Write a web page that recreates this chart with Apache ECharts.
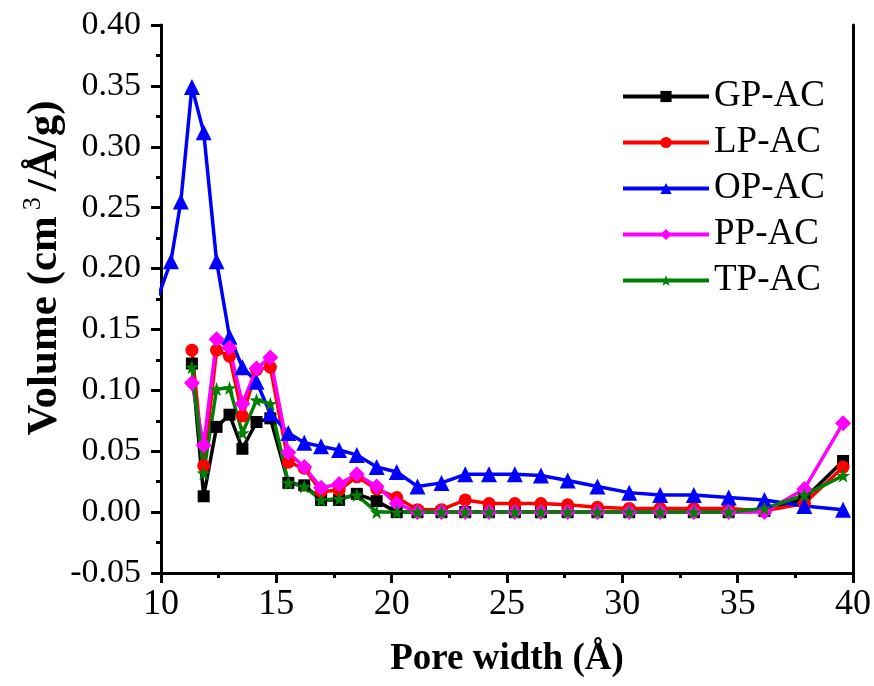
<!DOCTYPE html>
<html>
<head>
<meta charset="utf-8">
<title>Pore size distribution</title>
<script src="https://cdn.jsdelivr.net/npm/echarts@6/dist/echarts.min.js"></script>
<style>
  html, body { margin: 0; padding: 0; background: #fff; }
  #chart { width: 874px; height: 686px; }
</style>
</head>
<body>
<div id="chart"></div>
<script>
// pore width (Å) for OP-AC, which starts earlier than the others
const poreWidthOP = [9.9, 10.43, 10.86, 11.34, 11.85, 12.41, 12.97, 13.53, 14.14, 14.74, 15.52, 16.21, 16.94, 17.72, 18.49, 19.35, 20.22, 21.12, 22.16, 23.19, 24.22, 25.34, 26.47, 27.63, 28.92, 30.30, 31.64, 33.10, 34.61, 36.16, 37.89, 39.57]
// pore width (Å) shared by the other samples
const poreWidth = [11.34, 11.85, 12.41, 12.97, 13.53, 14.14, 14.74, 15.52, 16.21, 16.94, 17.72, 18.49, 19.35, 20.22, 21.12, 22.16, 23.19, 24.22, 25.34, 26.47, 27.63, 28.92, 30.30, 31.64, 33.10, 34.61, 36.16, 37.89, 39.57]

const opAC = [0.178, 0.206, 0.255, 0.349, 0.312, 0.206, 0.144, 0.119, 0.107, 0.081, 0.065, 0.057, 0.054, 0.051, 0.047, 0.037, 0.033, 0.021, 0.024, 0.031, 0.031, 0.031, 0.030, 0.026, 0.021, 0.016, 0.014, 0.014, 0.012, 0.010, 0.005, 0.002]
const gpAC = [0.122, 0.013, 0.070, 0.080, 0.052, 0.074, 0.077, 0.024, 0.022, 0.010, 0.010, 0.015, 0.009, 0.000, 0.000, 0.000, 0.000, 0.000, 0.000, 0.000, 0.000, 0.000, 0.000, 0.000, 0.000, 0.000, 0.001, 0.011, 0.042]
const lpAC = [0.133, 0.038, 0.133, 0.128, 0.079, 0.117, 0.119, 0.041, 0.036, 0.017, 0.018, 0.029, 0.019, 0.012, 0.002, 0.002, 0.010, 0.007, 0.007, 0.007, 0.006, 0.004, 0.003, 0.003, 0.003, 0.003, 0.001, 0.007, 0.037]
const ppAC = [0.106, 0.055, 0.142, 0.135, 0.089, 0.118, 0.127, 0.049, 0.037, 0.020, 0.023, 0.031, 0.021, 0.007, 0.000, 0.000, 0.000, 0.000, 0.000, 0.000, 0.000, 0.000, 0.000, 0.000, 0.000, 0.000, 0.000, 0.019, 0.073]
const tpAC = [0.119, 0.032, 0.101, 0.102, 0.065, 0.092, 0.089, 0.024, 0.021, 0.010, 0.011, 0.014, 0.000, 0.000, 0.000, 0.000, 0.000, 0.000, 0.000, 0.000, 0.000, 0.000, 0.000, 0.000, 0.000, 0.000, 0.003, 0.014, 0.030]

const serif = 'Liberation Serif'
const star = 'path://M0,-10 L2.35,-3.24 9.51,-3.09 3.8,1.24 5.88,8.09 0,4 -5.88,8.09 -3.8,1.24 -9.51,-3.09 -2.35,-3.24 Z'

function pairs(xs, ys) {
  return xs.map((x, i) => [x, ys[i]])
}

function makeSeries(name, xs, ys, color, symbol, size) {
  return {
    name: name,
    type: 'line',
    data: pairs(xs, ys),
    symbol: symbol,
    symbolSize: size,
    showSymbol: true,
    clip: true,
    lineStyle: { color: color, width: 3.5 },
    itemStyle: { color: color },
    emphasis: { disabled: true },
    animation: false
  }
}

const chart = echarts.init(document.getElementById('chart'))
chart.setOption({
  backgroundColor: '#fff',
  textStyle: { fontFamily: serif },
  grid: { left: 161, right: 18, top: 25, bottom: 113 },
  legend: {
    orient: 'vertical',
    left: 616,
    top: 73,
    itemWidth: 86,
    itemHeight: 14,
    itemGap: 9,
    lineStyle: { width: 4 },
    textStyle: { fontFamily: serif, fontSize: 37, color: '#000', lineHeight: 36 },
    data: ['GP-AC', 'LP-AC', 'OP-AC', 'PP-AC', 'TP-AC']
  },
  graphic: [{
    type: 'text',
    x: 45,
    y: 268,
    rotation: Math.PI / 2,
    style: {
      text: 'Volume (cm{sup|3}/Å/g)',
      fontFamily: serif,
      fontSize: 43,
      fontWeight: 'bold',
      fill: '#000',
      align: 'center',
      verticalAlign: 'middle',
      rich: {
        sup: { fontFamily: serif, fontSize: 26, fontWeight: 'normal', lineHeight: 50, verticalAlign: 'top', padding: [0, 6, 0, 6] }
      }
    }
  }],
  xAxis: {
    type: 'value',
    min: 10,
    max: 40,
    interval: 5,
    name: 'Pore width (Å)',
    nameLocation: 'middle',
    nameGap: 68,
    nameTextStyle: { fontFamily: serif, fontSize: 37, fontWeight: 'bold', color: '#000' },
    axisLine: { onZero: false, lineStyle: { color: '#000', width: 3 } },
    axisTick: { inside: false, length: 10, lineStyle: { color: '#000', width: 3 } },
    minorTick: { show: true, splitNumber: 2, length: 5, lineStyle: { color: '#000', width: 3 } },
    axisLabel: { fontFamily: serif, fontSize: 36, color: '#000', margin: 14 },
    splitLine: { show: false }
  },
  yAxis: [{
    type: 'value',
    min: -0.05,
    max: 0.40,
    interval: 0.05,
    axisLine: { show: true, onZero: false, lineStyle: { color: '#000', width: 3 } },
    axisTick: { inside: false, length: 10, lineStyle: { color: '#000', width: 3 } },
    minorTick: { show: true, splitNumber: 2, length: 5, lineStyle: { color: '#000', width: 3 } },
    axisLabel: {
      fontFamily: serif, fontSize: 34, color: '#000', margin: 20,
      formatter: v => v.toFixed(2)
    },
    splitLine: { show: false }
  }, {
    // right frame line
    type: 'value',
    position: 'right',
    min: -0.05,
    max: 0.40,
    axisLine: { show: true, onZero: false, lineStyle: { color: '#000', width: 3 } },
    axisTick: { show: false },
    axisLabel: { show: false },
    splitLine: { show: false }
  }],
  series: [
    makeSeries('GP-AC', poreWidth, gpAC, '#000000', 'rect', 12),
    makeSeries('LP-AC', poreWidth, lpAC, '#ff0000', 'circle', 13),
    makeSeries('OP-AC', poreWidthOP, opAC, '#0000ff', 'triangle', 16),
    makeSeries('PP-AC', poreWidth, ppAC, '#ff00ff', 'diamond', 16),
    makeSeries('TP-AC', poreWidth, tpAC, '#008000', star, 14)
  ]
})
</script>
</body>
</html>
